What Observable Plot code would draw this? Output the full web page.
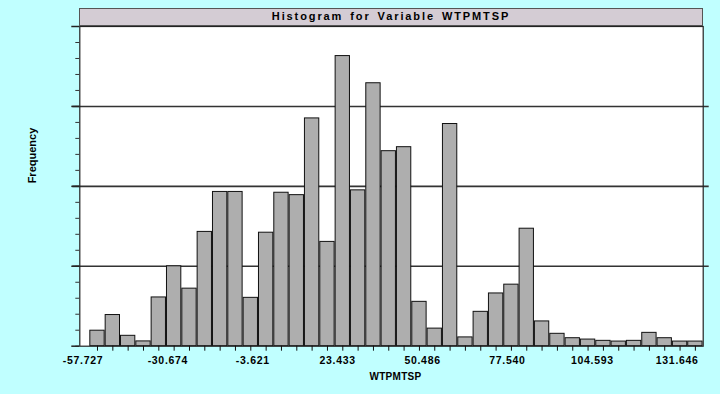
<!DOCTYPE html>
<html><head><meta charset="utf-8">
<script src="https://cdn.jsdelivr.net/npm/d3@7"></script>
<script src="https://cdn.jsdelivr.net/npm/@observablehq/plot@0.6"></script>
<style>
html,body{margin:0;padding:0;background:#C0FFFF;}
#wrap{position:relative;width:720px;height:394px;overflow:hidden;font-family:"Liberation Sans",Arial,sans-serif;}
#title{position:absolute;left:79px;top:8px;width:622px;height:16px;background:#D4CCD4;border:1px solid #555;font-weight:bold;font-size:11px;letter-spacing:1.9px;word-spacing:2px;text-align:center;line-height:14px;color:#000;}
#chart{position:absolute;left:0;top:0;}
</style></head><body>
<div id="wrap"><div id="chart"></div><div id="title">Histogram for Variable WTPMTSP</div></div>
<script>
// bin centres (WTPMTSP)
const binCenters = [-53.11, -48.22, -43.34, -38.45, -33.57, -28.68, -23.79, -18.91, -14.02, -9.14,
  -4.25, 0.64, 5.52, 10.41, 15.29, 20.18, 25.07, 29.95, 34.84, 39.72,
  44.61, 49.50, 54.38, 59.27, 64.15, 69.04, 73.93, 78.81, 83.70, 88.58,
  93.47, 98.36, 103.24, 108.13, 113.01, 117.90, 122.79, 127.67, 132.56, 137.44];
// frequencies (relative units, major grid = 10)
const frequencies = [1.94, 3.9, 1.3, 0.6, 6.1, 10.0, 7.2, 14.3, 19.3, 19.3,
  6.05, 14.2, 19.2, 18.9, 28.5, 13.05, 36.3, 19.5, 32.9, 24.4,
  24.9, 5.55, 2.2, 27.8, 1.1, 4.3, 6.6, 7.7, 14.7, 3.1,
  1.55, 1.0, 0.83, 0.67, 0.58, 0.67, 1.67, 1.0, 0.58, 0.58];
const xTickValues = [-57.727, -30.674, -3.621, 23.433, 50.486, 77.540, 104.593, 131.646];
const yMinorTicks = [0, 2, 4, 6, 8, 10, 12, 14, 16, 18, 20, 22, 24, 26, 28, 30, 32, 34, 36, 38, 40];
const yMajorTicks = [0, 10, 20, 30, 40];
const yGrid = [10, 20, 30];
const binWidth = 4.886;

const bins = binCenters.map((c, i) => ({c, f: frequencies[i]}));

const plot = Plot.plot({
  width: 720, height: 394,
  marginLeft: 79.3, marginRight: 17.3, marginTop: 26, marginBottom: 48.3,
  style: {background: "transparent", fontFamily: "Liberation Sans, Arial, sans-serif", color: "#000"},
  x: {domain: [-58.747, 139.93], label: null},
  y: {domain: [0, 40], label: null},
  marks: [
    Plot.frame({fill: "white", stroke: null}),
    Plot.gridY(yGrid, {stroke: "#333", strokeOpacity: 1, strokeWidth: 1.6, insetLeft: -7, insetRight: -6}),
    Plot.rectY(bins, {x1: d => d.c - binWidth / 2, x2: d => d.c + binWidth / 2, y: "f",
      fill: "#AEAEAE", stroke: "#111", strokeWidth: 1, insetLeft: 0.5, insetRight: 0.5}),
    Plot.frame({stroke: "#222", strokeWidth: 1.2}),
    Plot.axisY(yMinorTicks, {tickSize: 4, tickFormat: () => "", label: null, stroke: "#333"}),
    Plot.axisY(yMajorTicks, {tickSize: 8, tickFormat: () => "", label: null, stroke: "#222", strokeWidth: 1.5}),
    Plot.axisX(binCenters, {tickSize: 5, tickFormat: () => "", label: null, stroke: "#111"}),
    Plot.text(xTickValues, {x: d => d, text: d => d.toFixed(3), frameAnchor: "bottom", dy: 14,
      lineAnchor: "middle", fontWeight: "bold", fontSize: 10.5, fill: "#000"}),
    Plot.text(["WTPMTSP"], {text: d => d, frameAnchor: "bottom", dx: 4, dy: 31,
      lineAnchor: "middle", fontWeight: "bold", fontSize: 10, fill: "#000"}),
    Plot.text(["Frequency"], {text: d => d, frameAnchor: "left", rotate: -90, dx: -47, dy: -3,
      lineAnchor: "middle", fontWeight: "bold", fontSize: 11, fill: "#000"})
  ]
});
d3.select(plot).selectAll("text").filter(function () { return /^-?\d+\.\d{3}$/.test(this.textContent); })
  .style("letter-spacing", "0.7px");
d3.select(plot).selectAll("text").filter(function () { return this.textContent === "WTPMTSP"; })
  .style("letter-spacing", "0.3px");
document.getElementById("chart").appendChild(plot);
</script>
</body></html>
